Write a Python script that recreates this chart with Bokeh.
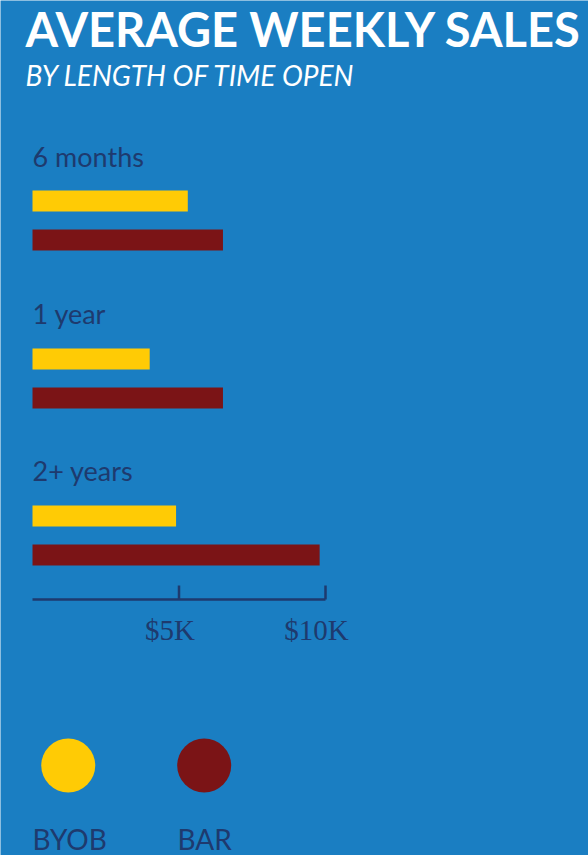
from bokeh.plotting import figure
from bokeh.models import Range1d, Label, ColumnDataSource
from bokeh.embed import file_html
from bokeh.resources import INLINE
from bokeh.core.properties import value

# ---- data ----
periods = ["6 months", "1 year", "2+ years"]
byob = [5.3, 4.0, 4.9]      # $K average weekly sales
bar = [6.5, 6.5, 9.8]       # $K average weekly sales
tick_values = [5, 10]
tick_labels = ["$5K", "$10K"]
series_names = ["BYOB", "BAR"]

BG = "#1a7ec2"
YELLOW = "#ffcb05"
RED = "#7b1416"
NAVY = "#1e3a6e"

W, H = 588, 855
px_per_k = 29.3
x0 = 32
p = figure(width=W, height=H, output_backend="svg", toolbar_location=None,
           x_range=Range1d(-x0 / px_per_k, (W - x0) / px_per_k),
           y_range=Range1d(H, 0), min_border=0, outline_line_color=None,
           background_fill_color=BG, border_fill_color=BG)
p.axis.visible = False
p.grid.visible = False

# layout positions (pixels from top)
group_top = [190, 348, 505]
bar_h = 21
gap = 39
label_y = [156, 313, 470]

src = ColumnDataSource(dict(
    y_byob=[g + bar_h / 2 for g in group_top],
    y_bar=[g + gap + bar_h / 2 for g in group_top],
    byob=byob, bar=bar, periods=periods,
    ly=label_y, lx=[0] * len(periods)))

p.hbar(y="y_byob", left=0, right="byob", height=bar_h, source=src,
       fill_color=YELLOW, line_color=None)
p.hbar(y="y_bar", left=0, right="bar", height=bar_h, source=src,
       fill_color=RED, line_color=None)
p.text(x="lx", y="ly", text="periods", source=src, text_font=value("Lato"),
       text_font_size="27px", text_color=NAVY, text_baseline="alphabetic",
       text_align="left")

# axis
axis_y = 599
p.segment(x0=[0], y0=[axis_y], x1=[max(tick_values)], y1=[axis_y],
          line_color=NAVY, line_width=2.5)
p.segment(x0=tick_values, y0=[axis_y - 14] * len(tick_values), x1=tick_values,
          y1=[axis_y] * len(tick_values), line_color=NAVY, line_width=2.5)
p.text(x=tick_values, y=[629] * len(tick_values), text=tick_labels,
       text_font=value("Liberation Serif"), text_font_size="29px",
       text_color=NAVY, text_align="center", text_baseline="alphabetic",
       x_offset=-9)

# title
p.add_layout(Label(x=25, y=28, x_units="screen", text="AVERAGE WEEKLY SALES",
                   text_font="Lato", text_font_style="bold", text_font_size="47px",
                   text_color="white", text_baseline="alphabetic"))
p.add_layout(Label(x=25, y=74, x_units="screen", text="BY LENGTH OF TIME OPEN",
                   text_font="Lato", text_font_style="italic", text_font_size="28px",
                   text_color="white", text_baseline="alphabetic"))

# legend
leg_x = [1.22, 5.86]
p.scatter(x=leg_x, y=[765, 765], size=54, fill_color=[YELLOW, RED], line_color=None)
p.text(x=[0, (177 - x0) / px_per_k], y=[838, 838], text=series_names,
       text_font=value("Lato"), text_font_size="28px", text_color=NAVY,
       text_baseline="alphabetic", text_align="left")

open("out.html", "w").write(file_html(p, INLINE))
